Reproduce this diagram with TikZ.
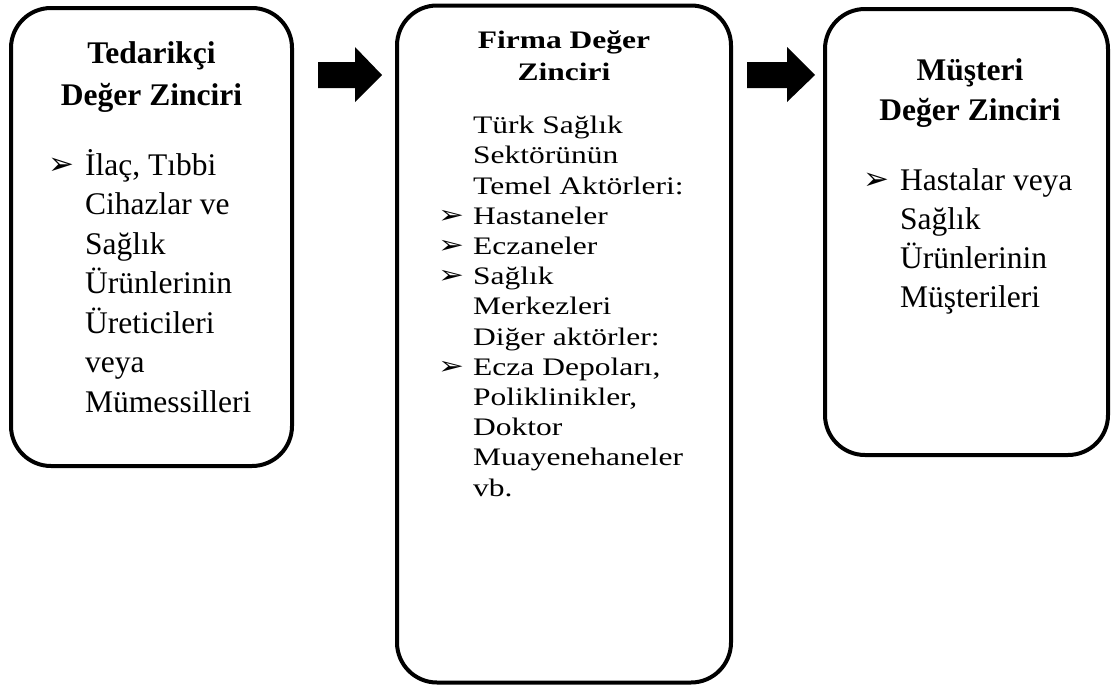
\documentclass[tikz,border=0pt]{standalone}
\usepackage{fontspec}
\setmainfont{Liberation Serif}
\newfontfamily\symfont{DejaVu Sans}
\newcommand{\bul}{\raisebox{1pt}{\symfont\fontsize{31}{31}\selectfont ➢}}
\newcommand{\bitem}[1]{\makebox[#1][l]{\bul}}
\newcommand{\nitem}[1]{\hspace*{#1}}
\begin{document}
\begin{tikzpicture}[x=1pt,y=-1pt,
  vbox/.style={draw, line width=4pt, rounded corners=40pt, inner sep=0pt},
  blockarrow/.style={fill=black, draw=none},
  title/.style={font=\bfseries\fontsize{31.5}{42}\selectfont, align=center, inner sep=0pt, anchor=base},
  body/.style={font=\fontsize{31.5}{39.5}\selectfont, align=left, inner sep=0pt, anchor=base west}]
\useasboundingbox (0,0) rectangle (1112,686);
% boxes
\node[vbox, minimum width=281pt, minimum height=458pt] (b1) at (151.5,237) {};
\node[vbox, minimum width=334pt, minimum height=677pt] (b2) at (564,344) {};
\node[vbox, minimum width=283pt, minimum height=446pt] (b3) at (966.5,232) {};
% block arrows
\fill[blockarrow] (318,62) -- (355,62) -- (355,47) -- (382,75) -- (355,102) -- (355,88) -- (318,88) -- cycle;
\fill[blockarrow] (747,62) -- (787,62) -- (787,47) -- (815,75) -- (787,102) -- (787,88) -- (747,88) -- cycle;
% box 1 (anchors sit on the baseline of the last line)
\node[title] (t1) at (151.5,105) {Tedarikçi\\Değer Zinciri};
\node[body] (x1) at (48,412) {\bitem{37pt}İlaç, Tıbbi\\\nitem{37pt}Cihazlar ve\\\nitem{37pt}Sağlık\\\nitem{37pt}Ürünlerinin\\\nitem{37pt}Üreticileri\\\nitem{37pt}veya\\\nitem{37pt}Mümessilleri};
% box 2
\node[title, font=\bfseries\fontsize{31.5}{40}\selectfont, yscale=0.8, transform shape] (t2) at (564,80) {Firma Değer\\Zinciri};
\node[body, font=\fontsize{31.5}{37.75}\selectfont, yscale=0.8, transform shape] (x2) at (438,496) {\nitem{35pt}Türk Sağlık\\\nitem{35pt}Sektörünün\\\nitem{35pt}Temel Aktörleri:\\\bitem{35pt}Hastaneler\\\bitem{35pt}Eczaneler\\\bitem{35pt}Sağlık\\\nitem{35pt}Merkezleri\\\nitem{35pt}Diğer aktörler:\\\bitem{35pt}Ecza Depoları,\\\nitem{35pt}Poliklinikler,\\\nitem{35pt}Doktor\\\nitem{35pt}Muayenehaneler\\\nitem{35pt}vb.};
% box 3
\node[title, font=\bfseries\fontsize{31.5}{40}\selectfont] (t3) at (970,120) {Müşteri\\Değer Zinciri};
\node[body, font=\fontsize{31.5}{39}\selectfont] (x3) at (863,307) {\bitem{37pt}Hastalar veya\\\nitem{37pt}Sağlık\\\nitem{37pt}Ürünlerinin\\\nitem{37pt}Müşterileri};
\end{tikzpicture}
\end{document}
